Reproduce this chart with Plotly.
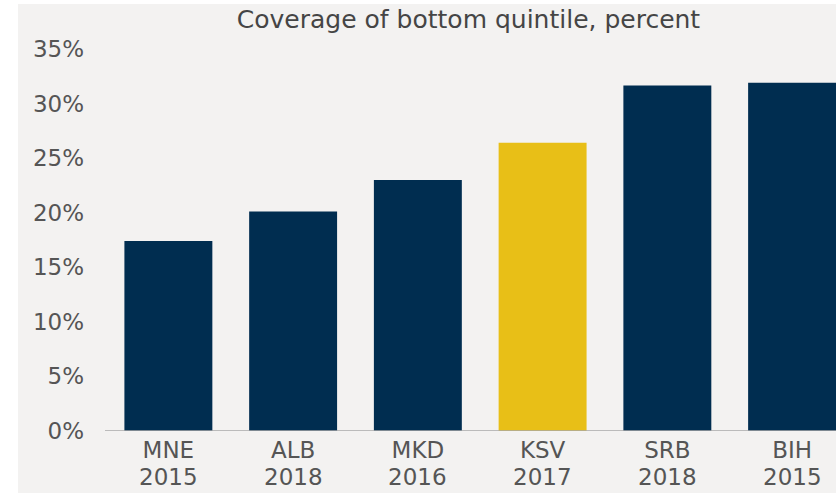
import plotly.graph_objects as go

countries = ["MNE", "ALB", "MKD", "KSV", "SRB", "BIH"]
years = ["2015", "2018", "2016", "2017", "2018", "2015"]
coverage = [17.4, 20.1, 23.0, 26.4, 31.65, 31.9]
highlight = "KSV"
y_ticks = [0, 5, 10, 15, 20, 25, 30, 35]

NAVY = "#002d50"
YELLOW = "#e8bf17"
BG = "#f3f2f1"
TXT = "#555555"
FONT = "DejaVu Sans"

colors = [YELLOW if c == highlight else NAVY for c in countries]
xpos = list(range(len(countries)))

fig = go.Figure(go.Bar(
    x=xpos,
    y=coverage,
    width=0.705,
    marker=dict(color=colors, line=dict(width=0)),
    hoverinfo="skip",
))

W, H = 836, 494
L, R, T, B = 107, 0, 49, 63
pw, ph = W - L - R, H - T - B


def px_x(p):
    return (p - L) / pw


def px_y(p):
    return (H - B - p) / ph


fig.update_layout(
    width=W, height=H,
    margin=dict(l=L, r=R, t=T, b=B, pad=0),
    paper_bgcolor="white",
    plot_bgcolor=BG,
    showlegend=False,
    title=dict(
        text="Coverage of bottom quintile, percent",
        font=dict(family=FONT, size=25, color="#454545"),
        xref="paper", x=px_x(468.5), xanchor="center",
        yref="container", y=1 - 19 / H, yanchor="middle",
    ),
    shapes=[dict(
        type="rect", xref="paper", yref="paper",
        x0=px_x(18), x1=px_x(836), y0=px_y(493), y1=px_y(4),
        fillcolor=BG, line=dict(width=0), layer="below",
    )],
    xaxis=dict(
        range=[-0.492, 5.352],
        tickmode="array",
        tickvals=xpos,
        ticktext=countries,
        showgrid=False,
        zeroline=False,
        showline=False,
        ticks="",
        ticklabelstandoff=3,
        tickfont=dict(family=FONT, size=23, color=TXT),
        fixedrange=True,
    ),
    yaxis=dict(
        range=[0, 35],
        tickvals=y_ticks,
        ticktext=[f"{v}%" for v in y_ticks],
        showgrid=False,
        zeroline=False,
        showline=False,
        ticks="",
        ticklabelstandoff=22,
        tickfont=dict(family=FONT, size=23, color=TXT),
        fixedrange=True,
    ),
)

# survey years as second label line
for xv, yr in zip(xpos, years):
    fig.add_annotation(
        x=xv, xref="x", y=px_y(477), yref="paper",
        text=yr, showarrow=False, xanchor="center", yanchor="middle",
        font=dict(family=FONT, size=23, color=TXT),
    )

# baseline at 0%
fig.add_shape(type="line", xref="paper", yref="y",
              x0=px_x(105), x1=1, y0=0, y1=0,
              line=dict(color="#a8a8a8", width=1.5), layer="above")

fig.write_html(
    "out.html",
    config={"displayModeBar": False, "staticPlot": True},
    post_script="document.body.style.margin='0';document.body.style.overflow='hidden';",
)
